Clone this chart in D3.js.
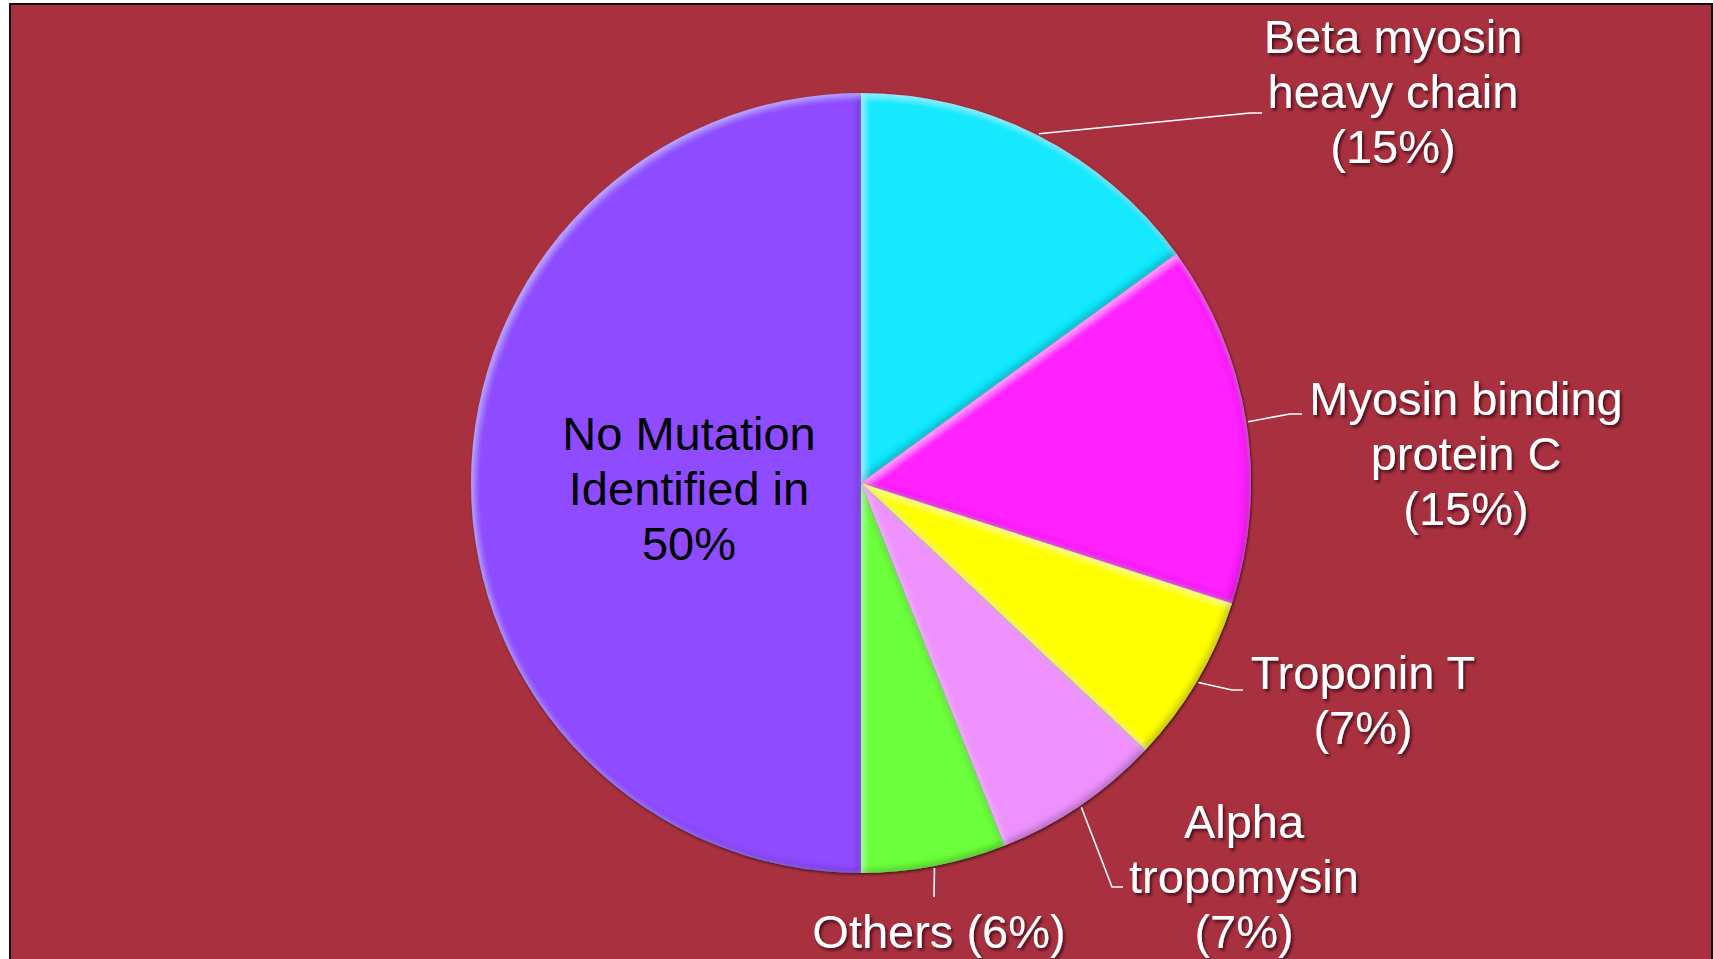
<!DOCTYPE html>
<html>
<head>
<meta charset="utf-8">
<script src="https://cdn.jsdelivr.net/npm/d3@7.9.0/dist/d3.min.js"></script>
<style>
  html, body { margin: 0; padding: 0; background: #fff; overflow: hidden; }
  svg { display: block; }
  text { font-family: "Liberation Sans", Arial, sans-serif; font-size: 47px; }
</style>
</head>
<body>
<svg id="chart" width="1713" height="959"></svg>
<script>
// data
const categories = ['Beta myosin heavy chain', 'Myosin binding protein C', 'Troponin T',
                    'Alpha tropomysin', 'Others', 'No Mutation Identified in'];
const values = [15, 15, 7, 7, 6, 50];
const sliceColors = ['#17e9fe', '#ff22ff', '#ffff00', '#ee91fe', '#6cff3a', '#8e4bff'];
const labelLines = [
  ['Beta myosin', 'heavy chain'],
  ['Myosin binding', 'protein C'],
  ['Troponin T'],
  ['Alpha', 'tropomysin'],
  ['Others'],
  ['No Mutation', 'Identified in']
];

// layout for each label: text centre, first baseline, leader bend + end
const labelLayout = [
  { x: 1393, y: 53,  pct: 'line', bend: [1250, 113], end: [1262, 113] },
  { x: 1466, y: 415, pct: 'line', bend: [1290, 414], end: [1302, 414] },
  { x: 1363, y: 689, pct: 'line', bend: [1232, 690], end: [1243, 690] },
  { x: 1244, y: 838, pct: 'line', bend: [1112, 887], end: [1123, 887] },
  { x: 939,  y: 948, pct: 'inline', bend: null, end: [934, 897] },
  { x: 689,  y: 450, pct: 'plain', inside: true }
];

const W = 1713, H = 959;
const cx = 861, cy = 483, R = 390;
const lineH = 55;

const svg = d3.select('#chart');
const defs = svg.append('defs');

// soft bevel: dark along lower-right edges, light along upper-left edges
const bevel = defs.append('filter').attr('id', 'bevel')
  .attr('x', '-5%').attr('y', '-5%').attr('width', '110%').attr('height', '110%');
bevel.append('feGaussianBlur').attr('in', 'SourceAlpha').attr('stdDeviation', 3).attr('result', 'blur');
bevel.append('feOffset').attr('in', 'blur').attr('dx', -3).attr('dy', -3).attr('result', 'upLeft');
bevel.append('feOffset').attr('in', 'blur').attr('dx', 3).attr('dy', 3).attr('result', 'downRight');
bevel.append('feComposite').attr('in', 'SourceAlpha').attr('in2', 'upLeft').attr('operator', 'out').attr('result', 'darkMask');
bevel.append('feComposite').attr('in', 'SourceAlpha').attr('in2', 'downRight').attr('operator', 'out').attr('result', 'lightMask');
bevel.append('feFlood').attr('flood-color', '#000').attr('flood-opacity', 0.45).attr('result', 'black');
bevel.append('feFlood').attr('flood-color', '#fff').attr('flood-opacity', 0.35).attr('result', 'white');
bevel.append('feComposite').attr('in', 'black').attr('in2', 'darkMask').attr('operator', 'in').attr('result', 'dark');
bevel.append('feComposite').attr('in', 'white').attr('in2', 'lightMask').attr('operator', 'in').attr('result', 'light');
const bm = bevel.append('feMerge');
bm.append('feMergeNode').attr('in', 'SourceGraphic');
bm.append('feMergeNode').attr('in', 'dark');
bm.append('feMergeNode').attr('in', 'light');

// thin shadow round the whole pie
const pieShadow = defs.append('filter').attr('id', 'pieShadow')
  .attr('x', '-5%').attr('y', '-5%').attr('width', '110%').attr('height', '110%');
pieShadow.append('feDropShadow').attr('dx', 1).attr('dy', 1.5).attr('stdDeviation', 1.5)
  .attr('flood-color', '#000').attr('flood-opacity', 0.6);

// text shadow for white labels
const txtShadow = defs.append('filter').attr('id', 'txtShadow')
  .attr('x', '-10%').attr('y', '-20%').attr('width', '120%').attr('height', '150%');
txtShadow.append('feDropShadow').attr('dx', 2).attr('dy', 2.5).attr('stdDeviation', 1.5)
  .attr('flood-color', '#2a0008').attr('flood-opacity', 0.75);

// slide background + frame
svg.append('rect').attr('width', W).attr('height', H).attr('fill', '#fff');
svg.append('rect')
  .attr('x', 10).attr('y', 4).attr('width', 1702).attr('height', 1000)
  .attr('fill', '#a9313f').attr('stroke', '#111').attr('stroke-width', 2);

// pie
const pie = d3.pie().sort(null).value(d => d);
const arcs = pie(values);
const arcGen = d3.arc().innerRadius(0).outerRadius(R);
const edgeArc = d3.arc().innerRadius(R + 2).outerRadius(R + 2);

const g = svg.append('g').attr('transform', `translate(${cx},${cy})`);
const pieG = g.append('g').attr('filter', 'url(#pieShadow)');
pieG.selectAll('path')
  .data(arcs)
  .enter().append('path')
    .attr('d', arcGen)
    .attr('fill', (_, i) => sliceColors[i])
    .attr('filter', 'url(#bevel)');

// leader lines
arcs.forEach((a, i) => {
  const lay = labelLayout[i];
  if (lay.inside) return;
  const s = edgeArc.centroid(a);
  const pts = [[s[0] + cx, s[1] + cy]];
  if (lay.bend) pts.push(lay.bend);
  pts.push(lay.end);
  svg.append('path')
    .attr('d', d3.line()(pts))
    .attr('fill', 'none')
    .attr('stroke', '#fff')
    .attr('stroke-width', 1.6);
});

// labels
arcs.forEach((a, i) => {
  const lay = labelLayout[i];
  let lines = labelLines[i].slice();
  const v = values[i];
  if (lay.pct === 'line') lines.push(`(${v}%)`);
  else if (lay.pct === 'inline') lines[lines.length - 1] += ` (${v}%)`;
  else lines.push(`${v}%`);

  const t = svg.append('text')
    .attr('text-anchor', 'middle')
    .attr('fill', lay.inside ? '#000' : '#fff');
  if (!lay.inside) t.attr('filter', 'url(#txtShadow)');
  lines.forEach((ln, k) => {
    t.append('tspan')
      .attr('x', lay.x)
      .attr('y', lay.y + k * lineH)
      .text(ln);
  });
});
</script>
</body>
</html>
